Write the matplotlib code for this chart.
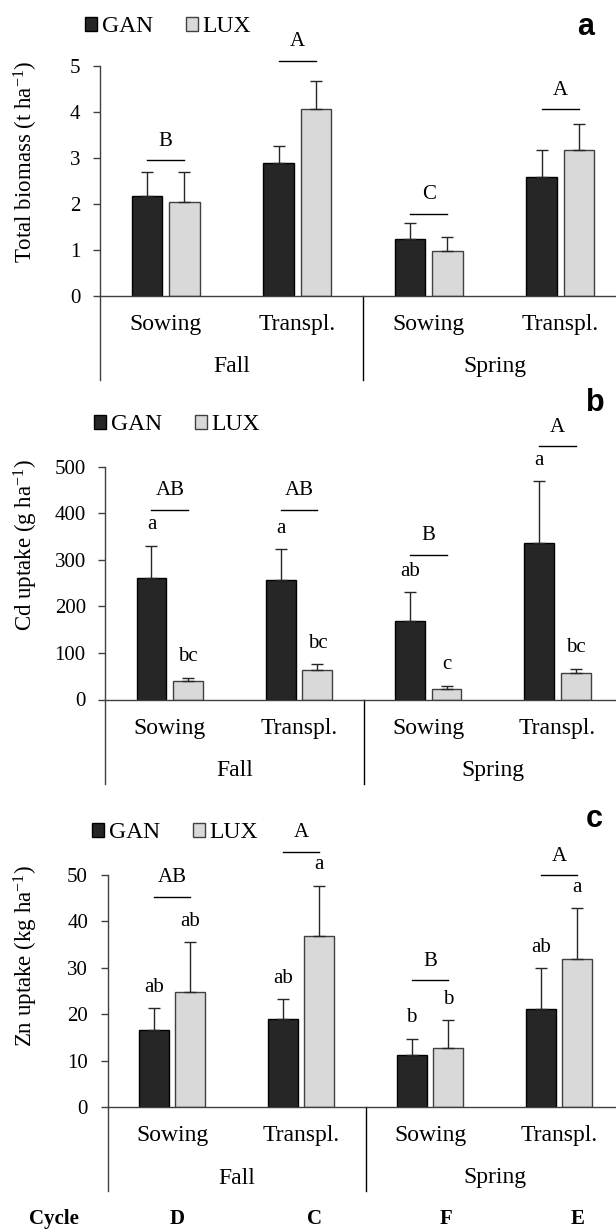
import numpy as np
import matplotlib.pyplot as plt
from matplotlib.patches import Patch

plt.rcParams['font.family'] = ['Liberation Serif', 'DejaVu Serif']
plt.rcParams['mathtext.default'] = 'regular'

W, H = 616, 1229  # figure size in pixels (dpi 100)

# -------------------------
# DATA
# -------------------------
methods = ['Sowing', 'Transpl.', 'Sowing', 'Transpl.']
seasons = ['Fall', 'Spring']
cycles = ['D', 'C', 'F', 'E']

# total biomass, t/ha
bio_gan = [2.17, 2.89, 1.23, 2.57]
bio_gan_err = [0.51, 0.37, 0.34, 0.60]
bio_lux = [2.04, 4.05, 0.97, 3.17]
bio_lux_err = [0.64, 0.61, 0.31, 0.56]
bio_groups = ['B', 'A', 'C', 'A']

# Cd uptake, g/ha
cd_gan = [261, 257, 168, 336]
cd_gan_err = [69, 66, 62, 133]
cd_lux = [39, 64, 22, 57]
cd_lux_err = [8, 12, 8, 9]
cd_groups = ['AB', 'AB', 'B', 'A']
cd_gan_letters = ['a', 'a', 'ab', 'a']
cd_lux_letters = ['bc', 'bc', 'c', 'bc']

# Zn uptake, kg/ha
zn_gan = [16.6, 18.9, 11.2, 21.1]
zn_gan_err = [4.7, 4.3, 3.5, 8.8]
zn_lux = [24.7, 36.9, 12.7, 31.9]
zn_lux_err = [10.8, 10.8, 6.0, 10.9]
zn_groups = ['AB', 'A', 'B', 'A']
zn_gan_letters = ['ab', 'ab', 'b', 'ab']
zn_lux_letters = ['ab', 'a', 'b', 'a']

# -------------------------
# STYLE
# -------------------------
GAN_FC, GAN_EC = '#262626', '#000000'
LUX_FC, LUX_EC = '#d9d9d9', '#404040'
AXIS_C = '#404040'
BAR_W = 0.23
OFF = 0.142

fig = plt.figure(figsize=(W / 100, H / 100), dpi=100)


def px_axes(left, right, top, bottom):
    return fig.add_axes([left / W, 1 - bottom / H, (right - left) / W, (bottom - top) / H])


def panel(ax, gan, gan_err, lux, lux_err, ymax, step, ylabel, label_y,
          groups_sig, bracket_y, gan_letters=None, lux_letters=None):
    x = np.arange(len(gan))
    ekw = dict(ecolor='#262626', elinewidth=1, capthick=1)
    ax.bar(x - OFF, gan, BAR_W, color=GAN_FC, edgecolor=GAN_EC, linewidth=1,
           yerr=[np.zeros(len(gan)), gan_err], capsize=4, error_kw=ekw, zorder=2)
    ax.bar(x + OFF, lux, BAR_W, color=LUX_FC, edgecolor=LUX_EC, linewidth=1,
           yerr=[np.zeros(len(lux)), lux_err], capsize=4, error_kw=ekw, zorder=2)

    ax.set_xlim(-0.5, len(gan) - 0.5)
    ax.set_ylim(0, ymax)
    ax.set_yticks(np.arange(0, ymax + step / 2, step))
    ax.set_xticks([])
    for s in ['top', 'right']:
        ax.spines[s].set_visible(False)
    for s in ['left', 'bottom']:
        ax.spines[s].set_color(AXIS_C)
        ax.spines[s].set_linewidth(1)
    ax.tick_params(axis='y', direction='out', length=5, width=1, color=AXIS_C,
                   labelsize=15, pad=9)

    # axis extension and season separator below the bars
    h_px = ax.get_position().height * H
    ext = 84 / h_px
    for xa in (0.0, 0.5):
        ax.plot([xa, xa], [0, -ext], transform=ax.transAxes, clip_on=False,
                color=AXIS_C if xa == 0 else '#000000', lw=1)

    for i, m in enumerate(methods):
        ax.annotate(m, xy=(i, 0), xycoords=('data', 'axes fraction'),
                    xytext=(0, -29), textcoords='offset pixels',
                    ha='center', va='center', fontsize=17)
    for j, s in enumerate(seasons):
        ax.annotate(s, xy=(2 * j + 0.5, 0), xycoords=('data', 'axes fraction'),
                    xytext=(0, -71), textcoords='offset pixels',
                    ha='center', va='center', fontsize=17)

    # group significance brackets
    for i, (g, yb) in enumerate(zip(groups_sig, bracket_y)):
        ax.plot([i - OFF, i + OFF], [yb, yb], color='#000000', lw=1, clip_on=False)
        ax.annotate(g, xy=(i, yb), xytext=(0, 19), textcoords='offset pixels',
                    ha='center', va='center', fontsize=15, annotation_clip=False)

    # per-bar letters
    if gan_letters is not None:
        for i in x:
            ax.annotate(gan_letters[i], xy=(i - OFF, gan[i] + gan_err[i]),
                        xytext=(0, 21), textcoords='offset pixels',
                        ha='center', va='center', fontsize=15, annotation_clip=False)
            ax.annotate(lux_letters[i], xy=(i + OFF, lux[i] + lux_err[i]),
                        xytext=(0, 21), textcoords='offset pixels',
                        ha='center', va='center', fontsize=15, annotation_clip=False)

    fig.text(26 / W, 1 - label_y / H, ylabel, rotation=90,
             ha='center', va='center', fontsize=16.5)


def legend_at(xp, yp):
    handles = [Patch(facecolor=GAN_FC, edgecolor=GAN_EC, linewidth=1),
               Patch(facecolor=LUX_FC, edgecolor=LUX_EC, linewidth=1)]
    fig.legend(handles, ['GAN', 'LUX'], loc='center left',
               bbox_to_anchor=(xp / W, 1 - yp / H), ncol=2, frameon=False,
               handlelength=0.5, handleheight=0.5, handletextpad=0.2,
               columnspacing=1.4, borderpad=0, borderaxespad=0, fontsize=17)


def panel_tag(xp, yp, tag):
    fig.text(xp / W, 1 - yp / H, tag, family=['Liberation Sans', 'DejaVu Sans'],
             weight='bold', fontsize=22, ha='center', va='baseline')


# (a) total biomass
ax_a = px_axes(100, 626, 65.7, 295.7)
panel(ax_a, bio_gan, bio_gan_err, bio_lux, bio_lux_err, 5, 1,
      'Total biomass (t ha$^{-1}$)', 162, bio_groups, [2.95, 5.11, 1.78, 4.05])
legend_at(85, 27)
panel_tag(586, 35, 'a')

# (b) Cd uptake
ax_b = px_axes(105.2, 622, 466.7, 699.5)
panel(ax_b, cd_gan, cd_gan_err, cd_lux, cd_lux_err, 500, 100,
      'Cd uptake (g ha$^{-1}$)', 545, cd_groups, [408, 408, 311, 544],
      cd_gan_letters, cd_lux_letters)
legend_at(94, 425)
panel_tag(595, 411, 'b')

# (c) Zn uptake
ax_c = px_axes(107.5, 623.5, 875, 1107)
panel(ax_c, zn_gan, zn_gan_err, zn_lux, zn_lux_err, 50, 10,
      'Zn uptake (kg ha$^{-1}$)', 956, zn_groups, [45.3, 55.0, 27.3, 49.9],
      zn_gan_letters, zn_lux_letters)
legend_at(92, 833)
panel_tag(594, 827, 'c')

# cycle row under the bottom panel
fig.text(54 / W, 1 - 1219 / H, 'Cycle', weight='bold', fontsize=15,
         ha='center', va='center')
for cx, c in zip([177.5, 314, 446, 578], cycles):
    fig.text(cx / W, 1 - 1219 / H, c, weight='bold', fontsize=15,
             ha='center', va='center')

fig.savefig('out.png', dpi=100)
